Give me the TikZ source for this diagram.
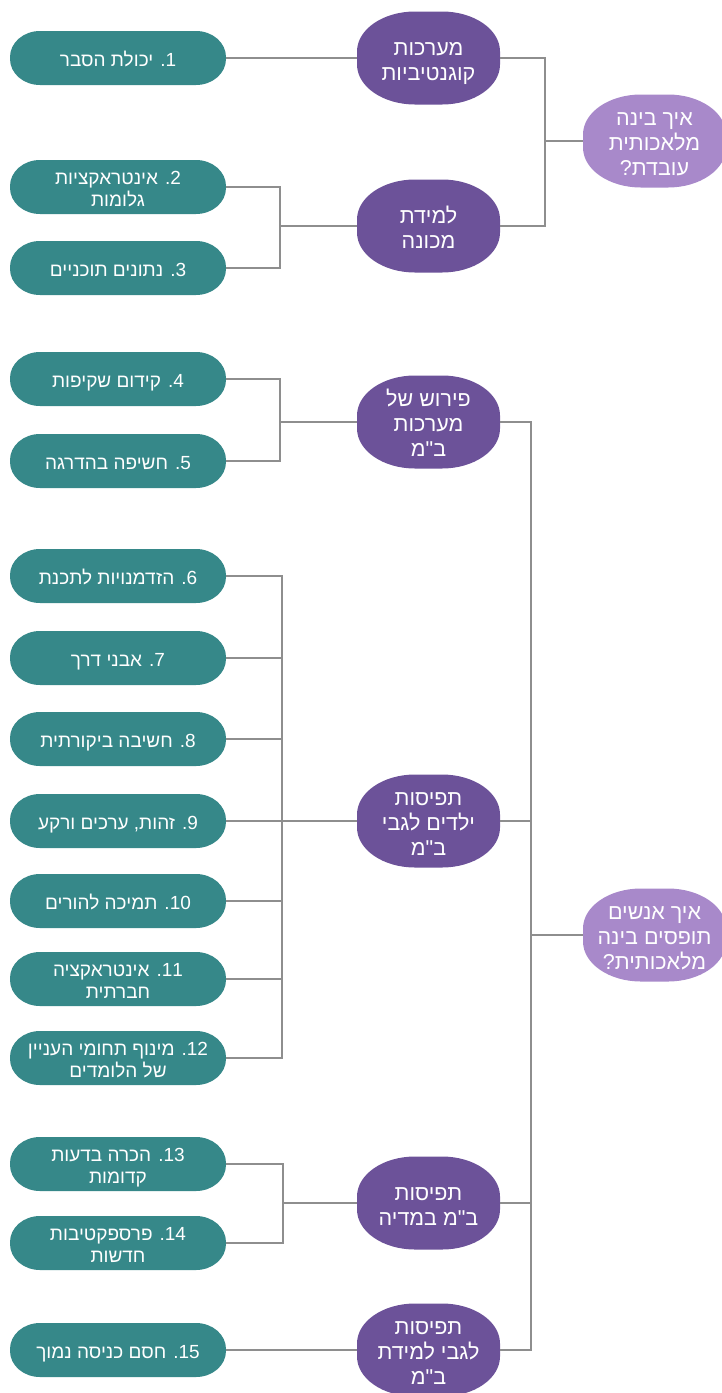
\documentclass[tikz,border=0pt]{standalone}
\usepackage{fontspec}
\newfontfamily\heb[Script=Hebrew]{Liberation Sans}
\TeXXeTstate=1
\usetikzlibrary{backgrounds}
\definecolor{tealc}{HTML}{368889}
\definecolor{darkp}{HTML}{6C5299}
\definecolor{lightp}{HTML}{A889CA}
\definecolor{linec}{HTML}{8E8E8E}
% one right-to-left line, with even vertical metrics so the glyphs sit centred
\newcommand\rtl[1]{\rule{0pt}{0.92em}\smash{\beginR #1\endR}}
% elliptical-cornered blob behind a node: name, W, H, rx, ry, colour
\newcommand\blob[6]{%
  \fill[#6] ([shift={({-#2/2},{#3/2-#5})}]#1.center)
    arc[start angle=180,end angle=90,x radius=#4pt,y radius=#5pt]
    -- ++({#2-2*#4},0)
    arc[start angle=90,end angle=0,x radius=#4pt,y radius=#5pt]
    -- ++(0,{-(#3-2*#5)})
    arc[start angle=0,end angle=-90,x radius=#4pt,y radius=#5pt]
    -- ++({-(#2-2*#4)},0)
    arc[start angle=-90,end angle=-180,x radius=#4pt,y radius=#5pt]
    -- cycle;}
\newcommand\tealblob[1]{\blob{#1}{216}{54}{30}{26}{tealc}}
\newcommand\darkblob[1]{\blob{#1}{143}{93}{58}{40}{darkp}}
\newcommand\lightblob[1]{\blob{#1}{143}{93}{58}{40}{lightp}}
\tikzset{
  base/.style={rectangle, inner sep=0pt, outer sep=0pt, align=center, text=white},
  tealbox/.style={base, minimum width=216pt, minimum height=54pt, font=\heb\fontsize{19}{22}\selectfont},
  darkbox/.style={base, minimum width=143pt, minimum height=93pt, font=\heb\fontsize{21.5}{25}\selectfont},
  lightbox/.style={darkbox},
  conn/.style={draw=linec, line width=1.6pt}
}
\begin{document}
\begin{tikzpicture}[x=1pt,y=1pt]
\useasboundingbox (0,0) rectangle (721,-1393);
\clip (0,0) rectangle (721,-1393);
% teal leaves
\node[tealbox] (t1)  at (118,-58)   {\rtl{1. יכולת הסבר}};
\node[tealbox] (t2)  at (118,-187)  {\rtl{2. אינטראקציות}\\\rtl{גלומות}};
\node[tealbox] (t3)  at (118,-268)  {\rtl{3. נתונים תוכניים}};
\node[tealbox] (t4)  at (118,-379)  {\rtl{4. קידום שקיפות}};
\node[tealbox] (t5)  at (118,-461)  {\rtl{5. חשיפה בהדרגה}};
\node[tealbox] (t6)  at (118,-576)  {\rtl{6. הזדמנויות לתכנת}};
\node[tealbox] (t7)  at (118,-658)  {\rtl{7. אבני דרך}};
\node[tealbox] (t8)  at (118,-739)  {\rtl{8. חשיבה ביקורתית}};
\node[tealbox] (t9)  at (118,-821)  {\rtl{9. זהות, ערכים ורקע}};
\node[tealbox] (t10) at (118,-901)  {\rtl{10. תמיכה להורים}};
\node[tealbox] (t11) at (118,-979)  {\rtl{11. אינטראקציה}\\\rtl{חברתית}};
\node[tealbox] (t12) at (118,-1058) {\rtl{12. מינוף תחומי העניין}\\\rtl{של הלומדים}};
\node[tealbox] (t13) at (118,-1164) {\rtl{13. הכרה בדעות}\\\rtl{קדומות}};
\node[tealbox] (t14) at (118,-1243) {\rtl{14. פרספקטיבות}\\\rtl{חדשות}};
\node[tealbox] (t15) at (118,-1350) {\rtl{15. חסם כניסה נמוך}};
% dark purple topics
\node[darkbox] (p1) at (428.5,-58)   {\rtl{מערכות}\\\rtl{קוגנטיביות}};
\node[darkbox] (p2) at (428.5,-226)  {\rtl{למידת}\\\rtl{מכונה}};
\node[darkbox] (p3) at (428.5,-422)  {\rtl{פירוש של}\\\rtl{מערכות}\\\rtl{ב"מ}};
\node[darkbox] (p4) at (428.5,-821)  {\rtl{תפיסות}\\\rtl{ילדים לגבי}\\\rtl{ב"מ}};
\node[darkbox] (p5) at (428.5,-1203) {\rtl{תפיסות}\\\rtl{ב"מ במדיה}};
\node[darkbox] (p6) at (428.5,-1350) {\rtl{תפיסות}\\\rtl{לגבי למידת}\\\rtl{ב"מ}};
% light purple questions
\node[lightbox] (l1) at (654.5,-141) {\rtl{איך בינה}\\\rtl{מלאכותית}\\\rtl{עובדת?}};
\node[lightbox] (l2) at (654.5,-935) {\rtl{איך אנשים}\\\rtl{תופסים בינה}\\\rtl{מלאכותית?}};
% junctions
\coordinate (j1) at (280,-226);
\coordinate (j2) at (280,-422);
\coordinate (j3) at (282,-821);
\coordinate (j4) at (283,-1203);
\coordinate (k1) at (545,-141);
\coordinate (k2) at (531,-935);
\begin{pgfonlayer}{background}
\tealblob{t1}\tealblob{t2}\tealblob{t3}\tealblob{t4}\tealblob{t5}
\tealblob{t6}\tealblob{t7}\tealblob{t8}\tealblob{t9}\tealblob{t10}
\tealblob{t11}\tealblob{t12}\tealblob{t13}\tealblob{t14}\tealblob{t15}
\darkblob{p1}\darkblob{p2}\darkblob{p3}\darkblob{p4}\darkblob{p5}\darkblob{p6}
\lightblob{l1}\lightblob{l2}
% connectors
\draw[conn] (t1.east) -- (p1.west);
\draw[conn] (t2.east) -| (j1) |- (t3.east);
\draw[conn] (j1) -- (p2.west);
\draw[conn] (t4.east) -| (j2) |- (t5.east);
\draw[conn] (j2) -- (p3.west);
\draw[conn] (t6.east) -| (j3) |- (t12.east);
\foreach \t in {t7,t8,t9,t10,t11} \draw[conn] (\t.east) -- (\t.east -| j3);
\draw[conn] (j3) -- (p4.west);
\draw[conn] (t13.east) -| (j4) |- (t14.east);
\draw[conn] (j4) -- (p5.west);
\draw[conn] (t15.east) -- (p6.west);
\draw[conn] (p1.east) -| (k1) |- (p2.east);
\draw[conn] (k1) -- (l1.west);
\draw[conn] (p3.east) -| (k2) |- (p6.east);
\draw[conn] (p4.east) -- (p4.east -| k2);
\draw[conn] (p5.east) -- (p5.east -| k2);
\draw[conn] (k2) -- (l2.west);
\end{pgfonlayer}
\end{tikzpicture}
\end{document}
